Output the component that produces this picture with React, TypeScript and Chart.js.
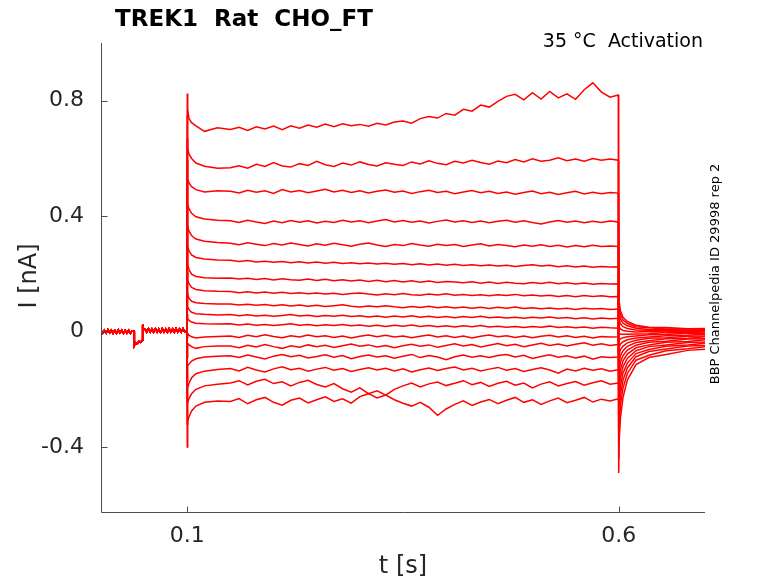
import { useEffect, useRef } from 'react';
import Chart from 'chart.js/auto';

// time base (s) - holding segment is the same for every sweep
const PRE_T = [0, 0.002, 0.004, 0.006, 0.008, 0.010, 0.012, 0.014, 0.016, 0.018, 0.020, 0.022, 0.024, 0.026, 0.028, 0.030, 0.032, 0.034, 0.036, 0.0383, 0.0386, 0.040, 0.042, 0.044, 0.046, 0.0478, 0.0483, 0.0492, 0.051, 0.053, 0.055, 0.057, 0.059, 0.061, 0.063, 0.065, 0.067, 0.069, 0.071, 0.073, 0.075, 0.077, 0.079, 0.081, 0.083, 0.085, 0.087, 0.089, 0.091, 0.093, 0.095, 0.097, 0.0995];
const PRE_I = [0.004, -0.006, 0.005, -0.005, 0.006, -0.004, 0.005, -0.006, 0.004, -0.005, 0.006, -0.004, 0.005, -0.006, 0.004, -0.005, 0.005, -0.006, 0.003, 0.001, -0.048, -0.038, -0.042, -0.034, -0.037, -0.029, 0.024, 0.010, 0.009, -0.002, 0.010, -0.001, 0.009, -0.002, 0.010, -0.001, 0.009, -0.003, 0.010, -0.001, 0.009, -0.002, 0.010, -0.001, 0.009, -0.002, 0.010, -0.001, 0.009, -0.002, 0.010, -0.001, 0.004];

const ON_T = [0.1, 0.1005, 0.102, 0.105, 0.11, 0.12, 0.135];
const STEP_T = [0.15, 0.16, 0.17, 0.18, 0.19, 0.2, 0.21, 0.22, 0.23, 0.24, 0.25, 0.26, 0.27, 0.28, 0.29, 0.3, 0.31, 0.32, 0.33, 0.34, 0.35, 0.36, 0.37, 0.38, 0.39, 0.4, 0.41, 0.42, 0.43, 0.44, 0.45, 0.46, 0.47, 0.48, 0.49, 0.5, 0.51, 0.52, 0.53, 0.54, 0.55, 0.56, 0.57, 0.58, 0.59, 0.5995];
const OFF_T = [0.6, 0.6005, 0.602, 0.605, 0.61, 0.62, 0.635, 0.655, 0.68, 0.7];

// current (nA), one row per sweep, top sweep first
const onsetI = [
  [0.825, 0.770, 0.738, 0.724, 0.713, 0.694, 0.706],
  [0.750, 0.635, 0.615, 0.600, 0.584, 0.573, 0.566],
  [0.670, 0.530, 0.515, 0.502, 0.492, 0.484, 0.488],
  [0.595, 0.440, 0.425, 0.410, 0.398, 0.390, 0.386],
  [0.520, 0.365, 0.348, 0.333, 0.321, 0.313, 0.309],
  [0.440, 0.295, 0.280, 0.266, 0.257, 0.252, 0.248],
  [0.365, 0.232, 0.215, 0.199, 0.191, 0.187, 0.185],
  [0.290, 0.180, 0.166, 0.153, 0.146, 0.142, 0.140],
  [0.210, 0.128, 0.116, 0.105, 0.100, 0.097, 0.096],
  [0.135, 0.086, 0.076, 0.067, 0.062, 0.060, 0.058],
  [0.060, 0.046, 0.039, 0.033, 0.029, 0.027, 0.026],
  [-0.020, -0.006, -0.012, -0.018, -0.022, -0.019, -0.017],
  [-0.090, -0.040, -0.046, -0.052, -0.058, -0.052, -0.050],
  [-0.170, -0.120, -0.112, -0.102, -0.094, -0.088, -0.085],
  [-0.245, -0.195, -0.178, -0.160, -0.146, -0.137, -0.131],
  [-0.320, -0.245, -0.232, -0.215, -0.200, -0.188, -0.182],
  [-0.400, -0.310, -0.295, -0.275, -0.258, -0.245, -0.240],
];

const plateauI = [
  [0.700, 0.708, 0.697, 0.710, 0.702, 0.712, 0.700, 0.713, 0.705, 0.716, 0.708, 0.719, 0.710, 0.720, 0.713, 0.718, 0.712, 0.722, 0.716, 0.726, 0.730, 0.722, 0.738, 0.745, 0.740, 0.756, 0.750, 0.770, 0.764, 0.785, 0.778, 0.798, 0.815, 0.822, 0.803, 0.828, 0.806, 0.832, 0.810, 0.824, 0.805, 0.838, 0.862, 0.830, 0.812, 0.820],
  [0.568, 0.575, 0.566, 0.580, 0.572, 0.586, 0.574, 0.570, 0.582, 0.576, 0.590, 0.578, 0.572, 0.584, 0.577, 0.588, 0.579, 0.574, 0.585, 0.580, 0.576, 0.588, 0.581, 0.592, 0.583, 0.578, 0.590, 0.584, 0.594, 0.586, 0.580, 0.591, 0.585, 0.596, 0.588, 0.599, 0.590, 0.594, 0.602, 0.592, 0.598, 0.590, 0.600, 0.594, 0.598, 0.594],
  [0.486, 0.480, 0.490, 0.483, 0.488, 0.479, 0.492, 0.484, 0.489, 0.481, 0.487, 0.493, 0.484, 0.490, 0.482, 0.488, 0.480, 0.486, 0.491, 0.483, 0.487, 0.479, 0.485, 0.490, 0.482, 0.486, 0.478, 0.484, 0.489, 0.481, 0.486, 0.479, 0.484, 0.476, 0.482, 0.487, 0.478, 0.483, 0.475, 0.481, 0.486, 0.477, 0.483, 0.478, 0.482, 0.480],
  [0.384, 0.378, 0.386, 0.380, 0.375, 0.383, 0.377, 0.385, 0.379, 0.384, 0.376, 0.382, 0.378, 0.386, 0.380, 0.384, 0.377, 0.383, 0.388, 0.380, 0.385, 0.379, 0.383, 0.376, 0.382, 0.387, 0.380, 0.384, 0.378, 0.383, 0.377, 0.382, 0.386, 0.379, 0.384, 0.378, 0.373, 0.380, 0.385, 0.379, 0.383, 0.377, 0.382, 0.378, 0.383, 0.380],
  [0.306, 0.301, 0.308, 0.303, 0.298, 0.305, 0.300, 0.307, 0.302, 0.297, 0.304, 0.299, 0.306, 0.301, 0.296, 0.303, 0.307, 0.300, 0.295, 0.302, 0.298, 0.305, 0.300, 0.296, 0.303, 0.298, 0.302, 0.295, 0.300, 0.304, 0.297, 0.302, 0.298, 0.294, 0.300, 0.296, 0.301, 0.295, 0.299, 0.293, 0.298, 0.294, 0.299, 0.295, 0.297, 0.295],
  [0.247, 0.243, 0.246, 0.241, 0.244, 0.240, 0.243, 0.239, 0.242, 0.238, 0.241, 0.237, 0.240, 0.236, 0.239, 0.235, 0.238, 0.234, 0.237, 0.233, 0.236, 0.232, 0.235, 0.231, 0.234, 0.230, 0.233, 0.229, 0.232, 0.228, 0.231, 0.227, 0.230, 0.226, 0.229, 0.232, 0.227, 0.230, 0.225, 0.228, 0.224, 0.227, 0.223, 0.226, 0.224, 0.225],
  [0.186, 0.182, 0.185, 0.181, 0.184, 0.179, 0.183, 0.180, 0.178, 0.182, 0.177, 0.181, 0.176, 0.180, 0.175, 0.179, 0.174, 0.178, 0.173, 0.177, 0.172, 0.176, 0.171, 0.175, 0.170, 0.174, 0.172, 0.169, 0.173, 0.168, 0.172, 0.167, 0.171, 0.168, 0.166, 0.170, 0.167, 0.171, 0.166, 0.169, 0.165, 0.168, 0.164, 0.167, 0.165, 0.166],
  [0.139, 0.135, 0.138, 0.134, 0.137, 0.133, 0.136, 0.132, 0.135, 0.131, 0.134, 0.130, 0.133, 0.129, 0.132, 0.134, 0.130, 0.127, 0.131, 0.128, 0.132, 0.128, 0.126, 0.130, 0.127, 0.131, 0.126, 0.129, 0.125, 0.128, 0.124, 0.128, 0.125, 0.129, 0.124, 0.127, 0.123, 0.126, 0.122, 0.125, 0.121, 0.125, 0.122, 0.124, 0.121, 0.122],
  [0.096, 0.092, 0.095, 0.091, 0.094, 0.090, 0.093, 0.089, 0.092, 0.088, 0.091, 0.087, 0.090, 0.093, 0.088, 0.085, 0.089, 0.086, 0.090, 0.086, 0.083, 0.087, 0.084, 0.088, 0.083, 0.086, 0.082, 0.085, 0.081, 0.084, 0.080, 0.084, 0.081, 0.085, 0.080, 0.083, 0.079, 0.082, 0.078, 0.081, 0.077, 0.081, 0.078, 0.080, 0.077, 0.078],
  [0.059, 0.055, 0.058, 0.054, 0.057, 0.053, 0.056, 0.059, 0.054, 0.057, 0.052, 0.056, 0.053, 0.057, 0.052, 0.055, 0.051, 0.054, 0.050, 0.054, 0.051, 0.055, 0.050, 0.053, 0.049, 0.052, 0.048, 0.052, 0.049, 0.053, 0.048, 0.051, 0.047, 0.050, 0.046, 0.050, 0.047, 0.051, 0.046, 0.049, 0.045, 0.048, 0.044, 0.047, 0.045, 0.046],
  [0.027, 0.023, 0.026, 0.022, 0.025, 0.021, 0.024, 0.027, 0.022, 0.025, 0.020, 0.024, 0.021, 0.025, 0.020, 0.023, 0.019, 0.022, 0.018, 0.022, 0.019, 0.023, 0.018, 0.021, 0.017, 0.020, 0.016, 0.020, 0.017, 0.021, 0.016, 0.019, 0.015, 0.018, 0.014, 0.018, 0.015, 0.019, 0.014, 0.017, 0.013, 0.016, 0.012, 0.015, 0.013, 0.012],
  [-0.015, -0.020, -0.013, -0.018, -0.011, -0.017, -0.021, -0.014, -0.019, -0.012, -0.018, -0.014, -0.020, -0.015, -0.022, -0.016, -0.012, -0.018, -0.013, -0.019, -0.015, -0.021, -0.016, -0.012, -0.019, -0.014, -0.020, -0.015, -0.022, -0.016, -0.012, -0.018, -0.014, -0.020, -0.015, -0.021, -0.016, -0.013, -0.019, -0.014, -0.020, -0.016, -0.022, -0.017, -0.019, -0.018],
  [-0.050, -0.056, -0.047, -0.053, -0.045, -0.052, -0.058, -0.049, -0.054, -0.046, -0.052, -0.047, -0.055, -0.049, -0.043, -0.051, -0.046, -0.053, -0.048, -0.056, -0.049, -0.044, -0.051, -0.046, -0.054, -0.048, -0.042, -0.050, -0.045, -0.053, -0.047, -0.041, -0.049, -0.044, -0.052, -0.046, -0.040, -0.048, -0.043, -0.050, -0.044, -0.039, -0.047, -0.042, -0.048, -0.045],
  [-0.084, -0.090, -0.081, -0.088, -0.095, -0.085, -0.079, -0.087, -0.082, -0.091, -0.086, -0.080, -0.089, -0.083, -0.094, -0.086, -0.081, -0.088, -0.084, -0.092, -0.085, -0.079, -0.090, -0.083, -0.088, -0.097, -0.087, -0.081, -0.089, -0.084, -0.090, -0.083, -0.079, -0.088, -0.082, -0.093, -0.086, -0.080, -0.089, -0.084, -0.091, -0.085, -0.096, -0.087, -0.090, -0.088],
  [-0.128, -0.136, -0.124, -0.133, -0.140, -0.129, -0.122, -0.132, -0.127, -0.137, -0.130, -0.124, -0.134, -0.128, -0.138, -0.131, -0.125, -0.133, -0.127, -0.136, -0.129, -0.140, -0.132, -0.126, -0.135, -0.128, -0.123, -0.133, -0.127, -0.136, -0.130, -0.124, -0.134, -0.128, -0.138, -0.131, -0.125, -0.133, -0.144, -0.130, -0.136, -0.127, -0.134, -0.129, -0.137, -0.132],
  [-0.178, -0.170, -0.185, -0.172, -0.165, -0.180, -0.174, -0.188, -0.176, -0.169, -0.183, -0.192, -0.180, -0.198, -0.210, -0.195, -0.215, -0.205, -0.220, -0.200, -0.188, -0.178, -0.192, -0.181, -0.175, -0.187, -0.179, -0.170, -0.184, -0.176, -0.190, -0.179, -0.172, -0.186, -0.178, -0.195, -0.182, -0.174, -0.188, -0.180, -0.173, -0.186, -0.177, -0.170, -0.182, -0.178],
  [-0.242, -0.232, -0.250, -0.236, -0.228, -0.245, -0.255, -0.238, -0.230, -0.247, -0.236, -0.226, -0.242, -0.233, -0.248, -0.225, -0.215, -0.230, -0.220, -0.236, -0.248, -0.258, -0.245, -0.262, -0.290, -0.268, -0.252, -0.240, -0.256, -0.244, -0.235, -0.250, -0.238, -0.228, -0.245, -0.236, -0.252, -0.240, -0.230, -0.246, -0.238, -0.228, -0.244, -0.234, -0.240, -0.233],
];

const tailI = [
  [-0.490, -0.380, -0.300, -0.228, -0.168, -0.114, -0.090, -0.079, -0.065, -0.061],
  [-0.440, -0.330, -0.255, -0.195, -0.145, -0.099, -0.082, -0.066, -0.059, -0.052],
  [-0.390, -0.285, -0.220, -0.168, -0.126, -0.087, -0.069, -0.060, -0.050, -0.048],
  [-0.340, -0.245, -0.188, -0.143, -0.109, -0.076, -0.062, -0.051, -0.046, -0.040],
  [-0.290, -0.205, -0.158, -0.121, -0.093, -0.066, -0.052, -0.046, -0.038, -0.036],
  [-0.245, -0.170, -0.131, -0.101, -0.078, -0.056, -0.046, -0.037, -0.034, -0.028],
  [-0.200, -0.138, -0.106, -0.083, -0.064, -0.047, -0.037, -0.033, -0.026, -0.025],
  [-0.160, -0.108, -0.083, -0.066, -0.051, -0.038, -0.032, -0.025, -0.023, -0.018],
  [-0.120, -0.080, -0.062, -0.050, -0.039, -0.030, -0.023, -0.021, -0.016, -0.015],
  [-0.080, -0.055, -0.043, -0.035, -0.028, -0.022, -0.019, -0.014, -0.013, -0.009],
  [-0.040, -0.030, -0.025, -0.021, -0.018, -0.015, -0.011, -0.010, -0.006, -0.007],
  [0.000, -0.006, -0.008, -0.009, -0.009, -0.008, -0.007, -0.003, -0.004, -0.001],
  [0.040, 0.018, 0.009, 0.004, 0.001, -0.001, 0.000, -0.001, 0.002, 0.000],
  [0.080, 0.042, 0.027, 0.017, 0.011, 0.006, 0.005, 0.003, 0.005, 0.003],
  [0.120, 0.064, 0.043, 0.029, 0.020, 0.012, 0.007, 0.008, 0.005, 0.007],
  [0.160, 0.085, 0.058, 0.040, 0.028, 0.017, 0.013, 0.009, 0.010, 0.007],
  [0.200, 0.105, 0.072, 0.050, 0.035, 0.022, 0.015, 0.014, 0.010, 0.011],
];

const X_TICKS = [0.1, 0.6];
const Y_TICKS = [-0.4, 0, 0.4, 0.8];

const FONT = '"DejaVu Sans", sans-serif';
const TEXT = '#262626';
const AXIS = '#4d4d4d';

// axis lines with inward ticks + all the labels around the plot
const decor = {
  id: 'decor',
  afterDraw(chart: Chart) {
    const { ctx, chartArea: a, scales } = chart;
    ctx.save();
    ctx.strokeStyle = AXIS;
    ctx.lineWidth = 1;
    ctx.beginPath();
    const L = Math.round(a.left) + 0.5;
    const B = Math.round(a.bottom) + 0.5;
    ctx.moveTo(L, a.top);
    ctx.lineTo(L, B);
    ctx.lineTo(a.right, B);
    Y_TICKS.forEach((v) => {
      const y = Math.round(scales.y.getPixelForValue(v)) + 0.5;
      ctx.moveTo(L, y);
      ctx.lineTo(L + 6, y);
    });
    X_TICKS.forEach((v) => {
      const x = Math.round(scales.x.getPixelForValue(v)) + 0.5;
      ctx.moveTo(x, B);
      ctx.lineTo(x, B - 6);
    });
    ctx.stroke();

    ctx.fillStyle = '#000';
    ctx.font = `bold 23px ${FONT}`;
    ctx.textAlign = 'center';
    ctx.textBaseline = 'alphabetic';
    ctx.fillText('TREK1  Rat  CHO_FT', 244, 26);

    ctx.font = `19px ${FONT}`;
    ctx.textAlign = 'right';
    ctx.fillText('35 °C  Activation', 703, 47);

    ctx.fillStyle = TEXT;
    ctx.font = `24px ${FONT}`;
    ctx.textAlign = 'center';
    ctx.textBaseline = 'middle';
    ctx.fillText('t [s]', 403, 567);

    ctx.save();
    ctx.translate(30, 276);
    ctx.rotate(-Math.PI / 2);
    ctx.fillText('I [nA]', 0, 0);
    ctx.restore();

    ctx.fillStyle = '#000';
    ctx.save();
    ctx.translate(716, 274);
    ctx.rotate(-Math.PI / 2);
    ctx.font = `13px ${FONT}`;
    ctx.fillText('BBP Channelpedia ID 29998 rep 2', 0, 0);
    ctx.restore();

    ctx.restore();
  },
};

const App = () => {
  const canvasRef = useRef<HTMLCanvasElement>(null);

  useEffect(() => {
    if (!canvasRef.current) return;
    document.body.style.margin = '0';

    const times = [...PRE_T, ...ON_T, ...STEP_T, ...OFF_T];
    const datasets = plateauI.map((plateau, i) => {
      const vals = [...PRE_I, ...onsetI[i], ...plateau, ...tailI[i]];
      return {
        label: `sweep ${i + 1}`,
        data: times.map((t, k) => ({ x: t, y: vals[k] })),
        borderColor: '#ff0000',
        borderWidth: 1.5,
        pointRadius: 0,
        tension: 0,
        fill: false,
      };
    });

    const chart = new Chart(canvasRef.current, {
      type: 'line',
      data: { datasets },
      options: {
        responsive: false,
        animation: false,
        // axis boxes are fixed in afterFit so the plot area lands at 101..705 x 43..512
        layout: { padding: { left: 0, top: 43, right: 73, bottom: 0 } },
        plugins: {
          legend: { display: false },
          tooltip: { enabled: false },
          title: { display: false },
        },
        scales: {
          x: {
            type: 'linear',
            min: 0,
            max: 0.7,
            afterFit: (s: any) => { s.height = 71; },
            afterBuildTicks: (s: any) => { s.ticks = X_TICKS.map((v) => ({ value: v })); },
            grid: { display: false, drawTicks: false },
            border: { display: false },
            ticks: { color: TEXT, font: { family: FONT, size: 22 }, padding: 11, maxRotation: 0, autoSkip: false },
          },
          y: {
            type: 'linear',
            min: -0.625,
            max: 1.0,
            afterFit: (s: any) => { s.width = 101; },
            afterBuildTicks: (s: any) => { s.ticks = Y_TICKS.map((v) => ({ value: v })); },
            grid: { display: false, drawTicks: false },
            border: { display: false },
            ticks: { color: TEXT, font: { family: FONT, size: 22 }, padding: 17, autoSkip: false },
          },
        },
      },
      plugins: [decor],
    });

    return () => {
      chart.destroy();
    };
  }, []);

  return (
    <div style={{ width: 778, height: 583, background: '#fff' }}>
      <canvas ref={canvasRef} width={778} height={583} />
    </div>
  );
};

export default App;
